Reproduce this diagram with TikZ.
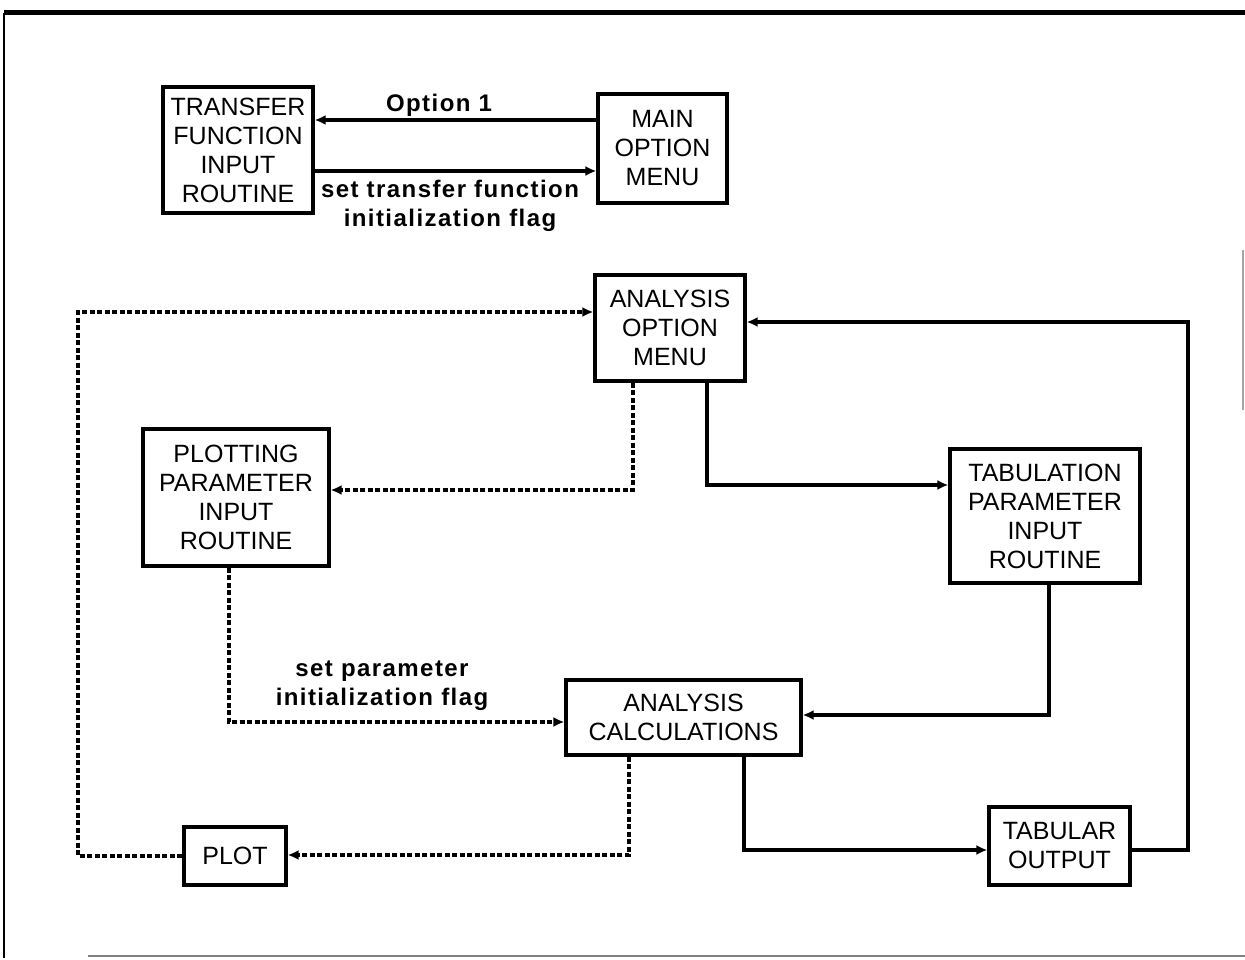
\documentclass[tikz,border=0pt]{standalone}
\usepackage{fontspec}
\setmainfont{Liberation Sans}
\newfontfamily\lblfont[LetterSpace=6]{Liberation Sans}
\usetikzlibrary{arrows.meta}
\tikzset{
  box/.style={draw, line width=3.2pt, align=center, inner sep=0pt,
    font=\fontsize{25}{29}\selectfont},
  lbl/.style={align=center, font=\lblfont\bfseries\fontsize{24}{29}\selectfont},
  conn/.style={line width=3.2pt, -{Latex[length=11pt,width=10pt]}},
  dconn/.style={conn, dash pattern=on 5pt off 2.5pt},
  frame/.style={line width=3pt}
}
\begin{document}
\begin{tikzpicture}[x=1pt,y=-1pt]
\useasboundingbox (0,0) rectangle (1245,960);
% frame
\draw[frame, line width=5pt] (4,13) -- (1245,13);
\draw[frame, line width=2.5pt] (4,13) -- (4,958);
\draw[frame, line width=2pt, gray] (88,956) -- (1245,956);
\draw[frame, line width=1.5pt, gray!70] (1243,250) -- (1243,410);
% nodes
\node[box, minimum width=150pt, minimum height=126pt] (tfir) at (238,150) {TRANSFER\\FUNCTION\\INPUT\\ROUTINE};
\node[box, minimum width=129pt, minimum height=109pt] (mom) at (662.5,148.5) {MAIN\\OPTION\\MENU};
\node[box, minimum width=150pt, minimum height=106pt] (aom) at (670,328) {ANALYSIS\\OPTION\\MENU};
\node[box, minimum width=186pt, minimum height=137pt] (ppir) at (236,497.5) {PLOTTING\\PARAMETER\\INPUT\\ROUTINE};
\node[box, minimum width=190pt, minimum height=134pt] (tpir) at (1045,516) {TABULATION\\PARAMETER\\INPUT\\ROUTINE};
\node[box, minimum width=235pt, minimum height=75pt] (ac) at (683.5,717.5) {ANALYSIS\\CALCULATIONS};
\node[box, minimum width=102pt, minimum height=58pt] (plot) at (235,856) {PLOT};
\node[box, minimum width=141pt, minimum height=78pt] (to) at (1059.5,846) {TABULAR\\OUTPUT};
% labels
\node[lbl] (l1) at (439,105) {Option 1};
\node[lbl] (l2) at (450,206) {set transfer function\\initialization flag};
\node[lbl] (l3) at (382,686) {set parameter\\initialization flag};
% coordinates
\coordinate (c1) at (78,312);
\coordinate (c2) at (78,856);
\coordinate (c3) at (633,490);
\coordinate (c4) at (707,485);
\coordinate (c5) at (1049,715);
\coordinate (c6) at (229,722);
\coordinate (c7) at (629,855);
\coordinate (c8) at (744,850);
\coordinate (c9) at (1188,850);
\coordinate (c10) at (1188,322);
% connectors
\draw[conn] (mom.west |- 0,120) -- (tfir.east |- 0,120);
\draw[conn] (tfir.east |- 0,171) -- (mom.west |- 0,171);
\draw[dconn] (plot.west |- c2) -- (c2) -- (c1) -- (aom.west |- c1);
\draw[dconn] (aom.south -| c3) -- (c3) -- (ppir.east |- c3);
\draw[conn] (aom.south -| c4) -- (c4) -- (tpir.west |- c4);
\draw[conn] (tpir.south -| c5) -- (c5) -- (ac.east |- c5);
\draw[dconn] (ppir.south -| c6) -- (c6) -- (ac.west |- c6);
\draw[dconn] (ac.south -| c7) -- (c7) -- (plot.east |- c7);
\draw[conn] (ac.south -| c8) -- (c8) -- (to.west |- c8);
\draw[conn] (to.east |- c9) -- (c9) -- (c10) -- (aom.east |- c10);
\end{tikzpicture}
\end{document}
